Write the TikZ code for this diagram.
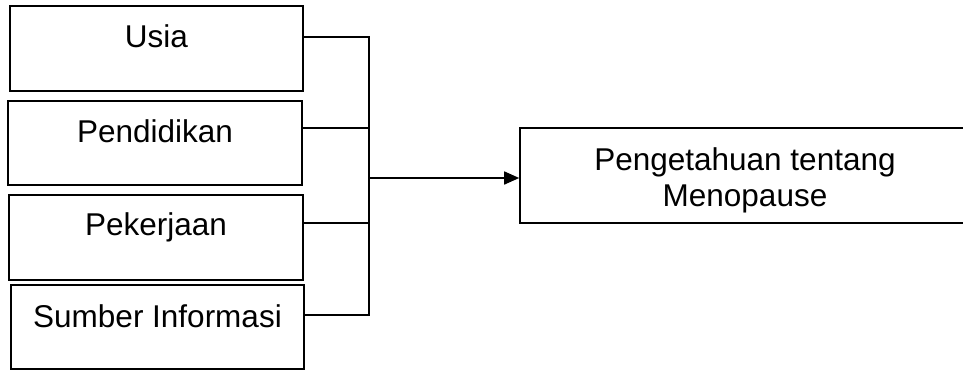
\documentclass[tikz,border=0pt]{standalone}
\usepackage{fontspec}
\setmainfont{Liberation Sans}
\usetikzlibrary{arrows.meta}
\begin{document}
\begin{tikzpicture}[x=1pt,y=1pt,
  box/.style={draw=black,line width=1.6pt,rectangle,inner sep=0pt},
  lbl/.style={anchor=base,inner sep=0pt,font=\fontsize{31.5}{36}\selectfont},
  wire/.style={draw=black,line width=1.6pt}]
\clip (0,0) rectangle (963,-370);
% left boxes
\node[box,minimum width=293pt,minimum height=85pt] (b1) at (156.5,-48.5) {};
\node[box,minimum width=294pt,minimum height=84pt] (b2) at (155,-143) {};
\node[box,minimum width=294pt,minimum height=85pt] (b3) at (156,-237.5) {};
\node[box,minimum width=293pt,minimum height=84pt] (b4) at (157.5,-327) {};
\node[lbl] (t1) at (156.5,-47) {Usia};
\node[lbl] (t2) at (155,-142) {Pendidikan};
\node[lbl] (t3) at (156,-235) {Pekerjaan};
\node[lbl] (t4) at (157.5,-327) {Sumber Informasi};
% right box
\node[box,minimum width=452pt,minimum height=95pt] (r) at (746,-175.5) {};
\node[lbl] (r1) at (745,-170) {Pengetahuan tentang};
\node[lbl] (r2) at (745,-206) {Menopause};
% bus
\coordinate (j1) at (369,-37);
\coordinate (j2) at (369,-128);
\coordinate (j3) at (369,-223);
\coordinate (j4) at (369,-315);
\coordinate (jm) at (369,-178);
\draw[wire] (b1.east |- j1) -- (j1) -- (j4) -- (b4.east |- j4);
\draw[wire] (b2.east |- j2) -- (j2);
\draw[wire] (b3.east |- j3) -- (j3);
\draw[wire,-{Triangle[length=15pt,width=13pt]}] (jm) -- (r.west |- jm);
\end{tikzpicture}
\end{document}
